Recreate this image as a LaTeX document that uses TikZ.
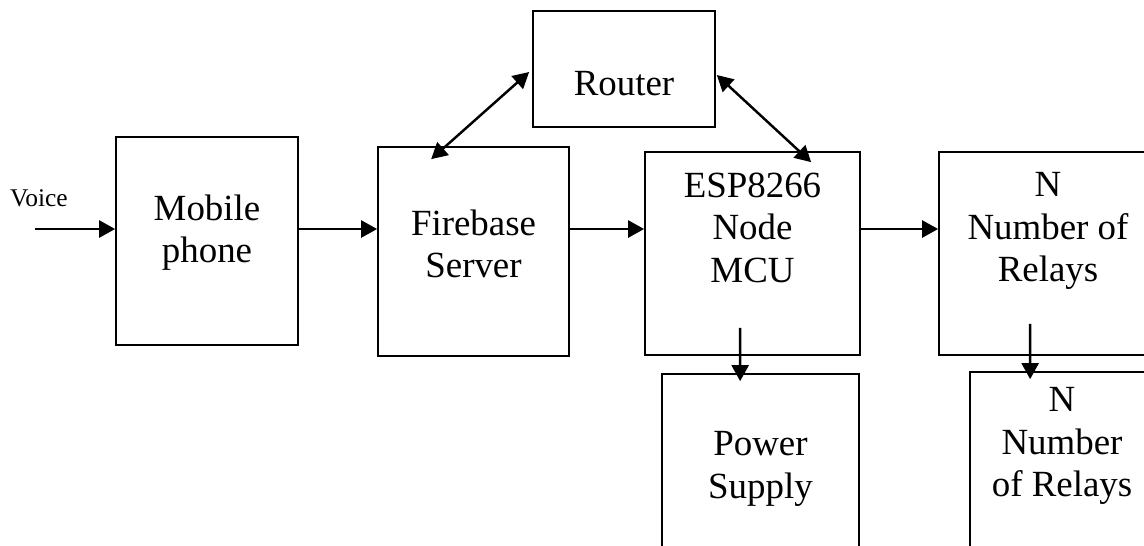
\documentclass[tikz,border=0pt]{standalone}
\usepackage{fontspec}
\setmainfont{Liberation Serif}
\usetikzlibrary{arrows.meta,positioning,calc}

\begin{document}
\begin{tikzpicture}[
    x=0.02cm, y=-0.02cm,
    box/.style={rectangle, draw, line width=1pt, inner sep=0pt},
    txt/.style={inner sep=0pt, align=center, font=\fontsize{21}{24.2}\selectfont},
    arr/.style={-{Triangle[length=0.32cm, width=0.34cm]}, line width=1.4pt},
    biarr/.style={{Triangle[length=0.32cm, width=0.34cm]}-{Triangle[length=0.32cm, width=0.34cm]}, line width=1.4pt}
]

% Frame
\clip (0,0) rectangle (1144,545);

% Blocks
\node[box, minimum width=3.64cm, minimum height=4.16cm] (mob) at (207,241) {};
\node[box, minimum width=3.82cm, minimum height=4.18cm] (fire) at (473.5,251.5) {};
\node[box, minimum width=3.64cm, minimum height=2.32cm] (router) at (624,69) {};
\node[box, minimum width=4.30cm, minimum height=4.06cm] (esp) at (752.5,253.5) {};
\node[box, minimum width=4.36cm, minimum height=4.06cm] (relays) at (1048,253.5) {};
\node[box, minimum width=3.94cm, minimum height=3.72cm] (power) at (760.5,467) {};
\node[box, minimum width=3.68cm, minimum height=3.52cm] (relaysb) at (1062,460) {};

% Block texts
\node[txt, below=1.16cm of mob.north] {Mobile\\phone};
\node[txt, below=1.26cm of fire.north] {Firebase\\Server};
\node[txt, below=1.22cm of router.north] {Router};
\node[txt, below=0.42cm of esp.north] {ESP8266\\Node\\MCU};
\node[txt, below=0.42cm of relays.north] {N\\Number of\\Relays};
\node[txt, below=1.16cm of power.north] {Power\\Supply};
\node[txt, below=0.32cm of relaysb.north] {N\\Number\\of Relays};

% Input
\coordinate (voicein) at (35,229);
\node[inner sep=0pt, anchor=north, font=\fontsize{14.5}{17}\selectfont] (voice) at (39,189) {Voice};

% Signal path
\draw[arr] (voicein) -- (mob.west |- voicein);
\draw[arr] (mob.east |- voicein) -- (fire.west |- voicein);
\draw[arr] (fire.east |- voicein) -- (esp.west |- voicein);
\draw[arr] (esp.east |- voicein) -- (relays.west |- voicein);

% Router links
\draw[biarr] ([shift={(54,13)}]fire.north west) -- ([shift={(-3,3)}]router.west);
\draw[biarr] ([shift={(1,6)}]router.east) -- ([shift={(167,11)}]esp.north west);

% Down links
\draw[arr] ([shift={(96,-28)}]esp.south west) -- ([shift={(79,8)}]power.north west);
\draw[arr] ([shift={(92,-32)}]relays.south west) -- ([shift={(61,8)}]relaysb.north west);

\end{tikzpicture}
\end{document}
